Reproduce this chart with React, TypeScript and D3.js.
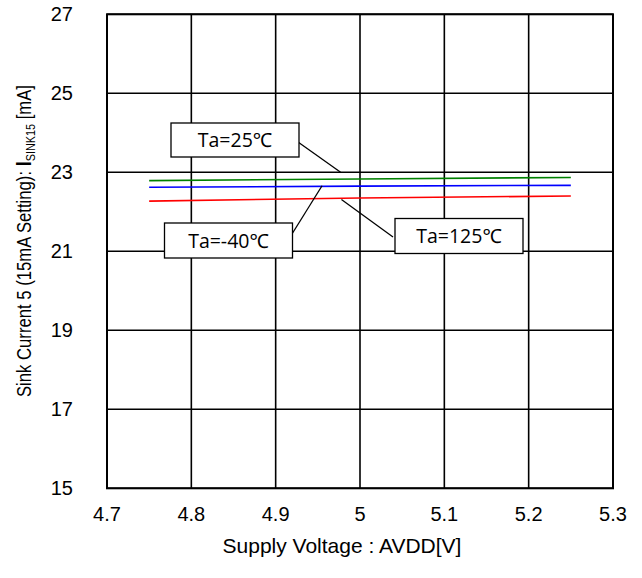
import React from "react";
import * as d3 from "d3";

const voltages = [4.75, 5.0, 5.25];
const ta25 = [22.79, 22.83, 22.87];
const taM40 = [22.62, 22.65, 22.67];
const ta125 = [22.27, 22.35, 22.40];
const xTicks = [4.7, 4.8, 4.9, 5.0, 5.1, 5.2, 5.3];
const yTicks = [15, 17, 19, 21, 23, 25, 27];

const seriesList = [
  { name: "Ta=25℃", values: ta25, color: "#008000" },
  { name: "Ta=-40℃", values: taM40, color: "#0000ff" },
  { name: "Ta=125℃", values: ta125, color: "#ff0000" },
];

const W = 642, H = 578;
const left = 107, right = 613, top = 14.3, bottom = 488.3;

export default function App() {
  const x = d3.scaleLinear().domain([4.7, 5.3]).range([left, right]);
  const y = d3.scaleLinear().domain([15, 27]).range([bottom, top]);
  const line = d3.line<number>().x((_, i) => x(voltages[i])).y((d) => y(d));
  const font = "Liberation Sans, Arial, sans-serif";

  const annos = [
    { text: "Ta=25℃", bx: 171, by: 123, bw: 128, bh: 34, lx1: 298, ly1: 142, lx2: x(4.977), ly2: y(23) },
    { text: "Ta=-40℃", bx: 164.5, by: 223, bw: 128, bh: 35, lx1: 292, ly1: 234, lx2: x(4.955), ly2: y(22.66) },
    { text: "Ta=125℃", bx: 395, by: 218.5, bw: 128, bh: 35, lx1: 393, ly1: 237, lx2: x(4.978), ly2: y(22.31) },
  ];

  return (
    <svg width={W} height={H} style={{ position: "absolute", left: 0, top: 0, background: "#fff" }} fontFamily={font}>
      <rect x={0} y={0} width={W} height={H} fill="#fff" />
      {xTicks.map((t) => (
        <line key={"gx" + t} x1={x(t)} x2={x(t)} y1={top} y2={bottom} stroke="#000" strokeWidth={1.6} />
      ))}
      {yTicks.map((t) => (
        <line key={"gy" + t} x1={left} x2={right} y1={y(t)} y2={y(t)} stroke="#000" strokeWidth={1.6} />
      ))}
      <rect x={left} y={top} width={right - left} height={bottom - top} fill="none" stroke="#000" strokeWidth={2} />
      {seriesList.map((s) => (
        <path key={s.name} d={line(s.values) || ""} fill="none" stroke={s.color} strokeWidth={1.6} />
      ))}
      {annos.map((a) => (
        <g key={a.text}>
          <line x1={a.lx1} y1={a.ly1} x2={a.lx2} y2={a.ly2} stroke="#000" strokeWidth={1.3} />
          <rect x={a.bx} y={a.by} width={a.bw} height={a.bh} fill="#fff" stroke="#000" strokeWidth={1.3} />
          <text x={a.bx + a.bw / 2} y={a.by + a.bh / 2 + 7} textAnchor="middle" fontSize={19.5} fontFamily="Open Sans, Noto Sans, sans-serif">
            {a.text}
          </text>
        </g>
      ))}
      {xTicks.map((t) => (
        <text key={"xt" + t} x={x(t)} y={521} textAnchor="middle" fontSize={20}>
          {d3.format("~g")(t)}
        </text>
      ))}
      {yTicks.map((t) => (
        <text key={"yt" + t} x={73} y={y(t) + 7} textAnchor="end" fontSize={20}>
          {t}
        </text>
      ))}
      <text x={342} y={553} textAnchor="middle" fontSize={21}>
        Supply Voltage : AVDD[V]
      </text>
      <text transform={`translate(31,241) rotate(-90)`} textAnchor="middle" fontSize={20} textLength={312} lengthAdjust="spacingAndGlyphs">
        Sink Current 5 (15mA Setting):{" "}
        <tspan fontWeight="bold" fontSize={22}>I</tspan>
        <tspan fontSize={13} dy={4}>SINK15</tspan>
        <tspan dy={-4}> [mA]</tspan>
      </text>
    </svg>
  );
}
